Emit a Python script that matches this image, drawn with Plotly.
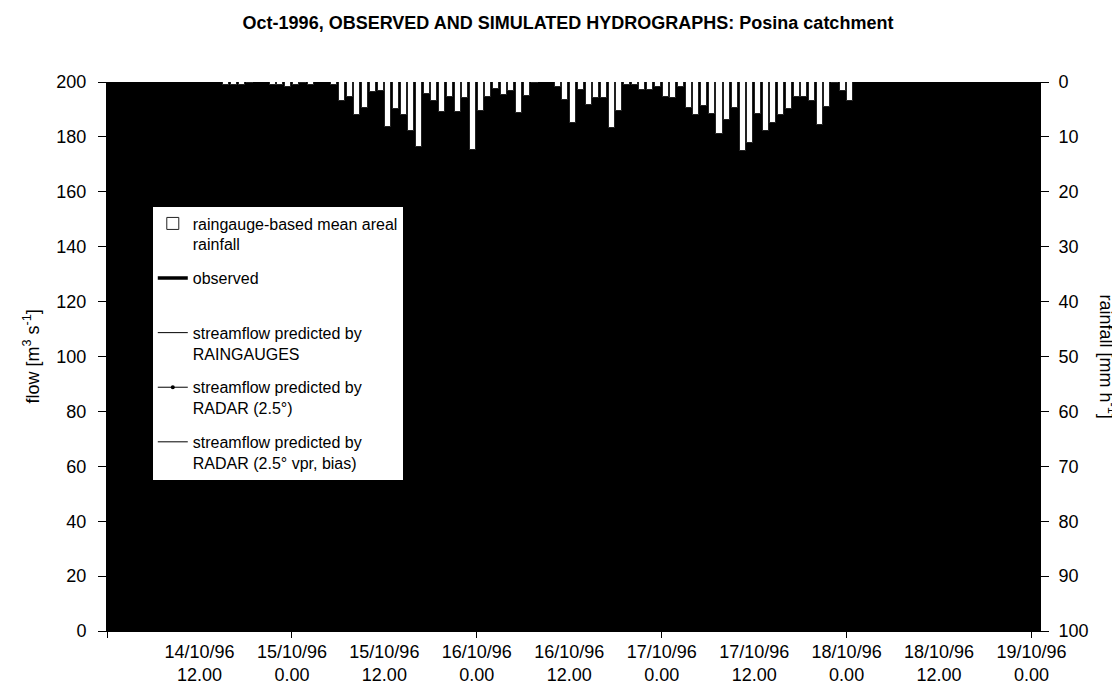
import datetime as dt
import plotly.graph_objects as go

# ---------------- data ----------------
start = dt.datetime(1996, 10, 14, 0, 0)
rain_first_hour = 15  # hours after 14/10/96 0.00 of first rainfall bar
rain_mm_h = [0.5, 0.6, 0.6, 0.25, 0, 0, 0.5, 0.5, 0.85, 0.6, 0.25, 0.5, 0, 0,
             0.5, 3.5, 2.7, 6.0, 4.7, 1.8, 1.6, 8.2, 4.9, 6.1, 9.0, 11.9, 2.1,
             3.5, 5.4, 2.7, 5.4, 2.9, 12.4, 5.3, 2.7, 1.2, 2.3, 1.6, 5.6, 2.55,
             0.25, 0, 0, 0.9, 3.2, 7.4, 1.5, 4.1, 2.9, 2.9, 8.3, 5.2, 0.6, 0.5,
             1.5, 1.45, 0.85, 2.8, 2.85, 0.9, 4.7, 6.1, 4.4, 5.8, 9.5, 7.0, 4.8,
             12.5, 11.2, 5.8, 8.9, 7.4, 6.1, 4.9, 2.8, 2.8, 3.5, 7.8, 4.5, 0.25,
             1.6, 3.5]
rain_times = [start + dt.timedelta(hours=rain_first_hour + i + 0.5)
              for i in range(len(rain_mm_h))]

label_times = [start + dt.timedelta(hours=12 * k) for k in range(1, 11)]
label_text = ["14/10/96<br>12.00", "15/10/96<br>0.00", "15/10/96<br>12.00",
              "16/10/96<br>0.00", "16/10/96<br>12.00", "17/10/96<br>0.00",
              "17/10/96<br>12.00", "18/10/96<br>0.00", "18/10/96<br>12.00",
              "19/10/96<br>0.00"]
tick_times = [start + dt.timedelta(hours=24 * k) for k in range(0, 6)]
x_range = [start, start + dt.timedelta(hours=121.1)]

legend_names = ["raingauge-based mean areal<br>rainfall",
                "observed<br> ",
                "streamflow predicted by<br>RAINGAUGES",
                "streamflow predicted by<br>RADAR (2.5°)",
                "streamflow predicted by<br>RADAR (2.5° vpr, bias)"]

FONT = "Liberation Sans, Arial, sans-serif"

fig = go.Figure()

fig.add_trace(go.Bar(
    x=rain_times, y=rain_mm_h, yaxis="y2", xaxis="x",
    name=legend_names[0], legendgroup="g0",
    marker=dict(color="white", line=dict(color="#222222", width=1)),
    width=0.78 * 3600 * 1000,
))

line_styles = [dict(width=3.5), dict(width=1), dict(width=1), dict(width=1)]
modes = ["lines", "lines", "lines+markers", "lines"]
for i, (ls, md) in enumerate(zip(line_styles, modes)):
    fig.add_trace(go.Scatter(
        x=[None], y=[None], mode=md, name=legend_names[i + 1],
        legendgroup=f"g{i+1}",
        line=dict(color="black", **ls),
        marker=dict(color="black", size=4),
    ))

# invisible helper trace for the label axis
fig.add_trace(go.Scatter(x=x_range, y=[None, None], xaxis="x2", yaxis="y",
                         showlegend=False, hoverinfo="skip", mode="lines"))

axis_font = dict(family=FONT, size=18, color="black")

fig.update_layout(
    width=1120, height=686,
    paper_bgcolor="white", plot_bgcolor="black",
    margin=dict(l=99, r=88, t=74, b=63, autoexpand=False),
    font=dict(family=FONT, color="black"),
    title=dict(text="<b>Oct-1996, OBSERVED AND SIMULATED HYDROGRAPHS: Posina catchment</b>",
               x=0.5, xanchor="center", y=0.978, yanchor="middle",
               font=dict(family=FONT, size=18, color="black")),
    bargap=0,
    xaxis=dict(type="date", range=x_range, tickvals=tick_times,
               showticklabels=False, ticks="outside", ticklen=6,
               tickcolor="black", showline=True, linecolor="black",
               linewidth=1, showgrid=False, zeroline=False, automargin=False),
    xaxis2=dict(type="date", range=x_range, overlaying="x", anchor="y",
                side="bottom", tickvals=label_times, ticktext=label_text,
                ticks="", showline=False, showgrid=False, zeroline=False,
                tickfont=axis_font, ticklabelstandoff=8, automargin=False),
    yaxis=dict(range=[0, 200], dtick=20, ticks="outside", ticklen=8,
               tickcolor="black", showline=True, linecolor="black",
               showgrid=False, zeroline=False, tickfont=axis_font,
               ticklabelstandoff=8, automargin=False),
    yaxis2=dict(range=[100, 0], dtick=10, overlaying="y", side="right",
                anchor="x", ticks="outside", ticklen=8, tickcolor="black",
                showline=True, linecolor="black", showgrid=False,
                zeroline=False, tickfont=axis_font, ticklabelstandoff=6,
                automargin=False),
    legend=dict(x=0.048, y=0.775, xanchor="left", yanchor="top",
                bgcolor="white", bordercolor="black", borderwidth=1,
                font=dict(family=FONT, size=16, color="black"),
                traceorder="grouped", valign="top", tracegroupgap=10,
                itemwidth=30),
    annotations=[
        dict(text="flow [m<sup>3</sup> s<sup>-1</sup>]", textangle=-90,
             xref="paper", yref="paper", x=(24 - 99) / 933, y=0.5,
             xanchor="center", yanchor="middle", showarrow=False,
             font=axis_font),
        dict(text="rainfall [mm h<sup>-1</sup>]", textangle=90,
             xref="paper", yref="paper", x=(1099 - 99) / 933, y=0.5,
             xanchor="center", yanchor="middle", showarrow=False,
             font=axis_font),
    ],
)

fig.write_html("out.html")
